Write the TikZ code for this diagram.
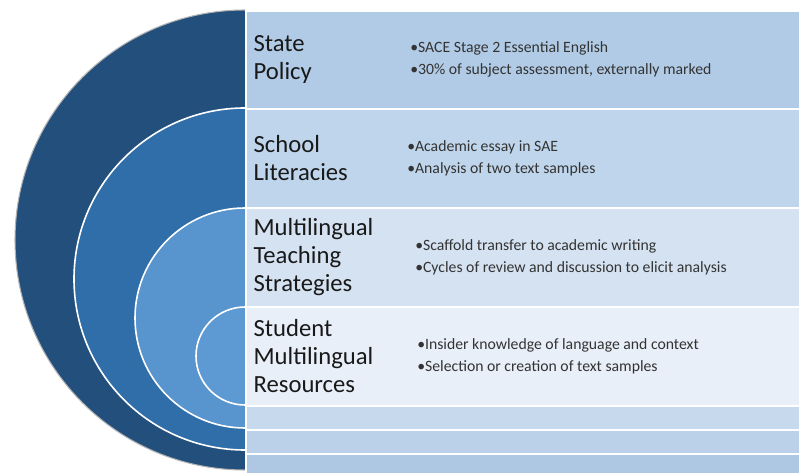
\documentclass[tikz,border=0pt]{standalone}
\usepackage{fontspec}
\setmainfont{Carlito}
\usetikzlibrary{positioning}
\definecolor{ringA}{HTML}{234F7D}
\definecolor{ringB}{HTML}{306EA9}
\definecolor{ringC}{HTML}{5894CD}
\definecolor{ringD}{HTML}{5D99D2}
\definecolor{bandA}{HTML}{B1CBE6}
\definecolor{bandB}{HTML}{BFD5EB}
\definecolor{bandC}{HTML}{D4E2F1}
\definecolor{bandD}{HTML}{E8EFF8}
\definecolor{bandE}{HTML}{C6D9ED}
\definecolor{bandF}{HTML}{BAD1E9}
\definecolor{bandG}{HTML}{AEC8E4}
\tikzstyle{band} = [rectangle, draw=white, line width=1.2pt, minimum width=416pt, inner sep=0pt, anchor=north west]
\tikzstyle{ring} = [draw=white, line width=1.2pt]
\tikzstyle{head} = [anchor=west, align=left, text=black!90, inner sep=0pt, font=\fontsize{18.5}{21}\selectfont]
\tikzstyle{items} = [anchor=west, align=left, text=black!80, inner sep=0pt, font=\fontsize{11.8}{16.5}\selectfont]

\begin{document}
\begin{tikzpicture}[x=0.75pt, y=-0.75pt]
	\useasboundingbox (0,0) rectangle (799,473);
	\fill[white] (0,0) rectangle (799,473);

	% rings on the left
	\begin{scope}
		\clip (0,0) rectangle (245,473);
		\filldraw[fill=ringA, draw=gray!60, line width=0.8pt] (245,240) circle (230);
		\filldraw[ring, fill=ringB] (245,279) circle (171);
		\filldraw[ring, fill=ringC] (245,318) circle (110);
		\filldraw[ring, fill=ringD] (245,356) circle (49);
	\end{scope}

	% bands on the right
	\node [band, fill=bandA, minimum height=73.5pt] (state) at (245,10) {};
	\node [band, fill=bandB, minimum height=74.25pt] (school) at (245,108) {};
	\node [band, fill=bandC, minimum height=74.25pt] (teach) at (245,207) {};
	\node [band, fill=bandD, minimum height=74.25pt] (student) at (245,306) {};
	\node [band, fill=bandE, minimum height=18pt] (blankA) at (245,405) {};
	\node [band, fill=bandF, minimum height=18pt] (blankB) at (245,429) {};
	\node [band, fill=bandG, minimum height=22pt] (blankC) at (245,453) {};

	\node [head, right=6.25pt of state.west] (state_h) {State\\Policy};
	\node [head, right=6.25pt of school.west] (school_h) {School\\Literacies};
	\node [head, right=6.25pt of teach.west] (teach_h) {Multilingual\\Teaching\\Strategies};
	\node [head, right=6.25pt of student.west] (student_h) {Student\\Multilingual\\Resources};

	\node [items, right=123.75pt of state.west] (state_i) {•SACE Stage 2 Essential English\\•30\% of subject assessment, externally marked};
	\node [items, right=121.5pt of school.west] (school_i) {•Academic essay in SAE\\•Analysis of two text samples};
	\node [items, right=127.5pt of teach.west] (teach_i) {•Scaffold transfer to academic writing\\•Cycles of review and discussion to elicit analysis};
	\node [items, right=129pt of student.west] (student_i) {•Insider knowledge of language and context\\•Selection or creation of text samples};
\end{tikzpicture}
\end{document}
